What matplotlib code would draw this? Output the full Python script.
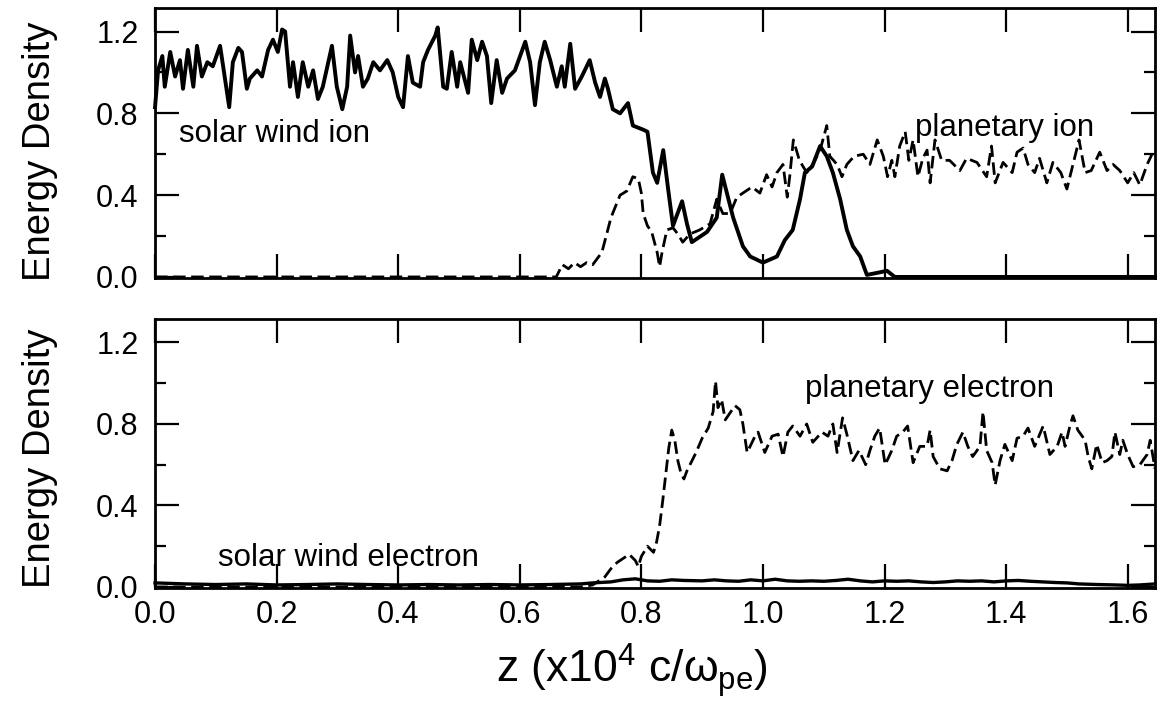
import matplotlib
matplotlib.use('Agg')
import matplotlib.pyplot as plt
from matplotlib.ticker import MultipleLocator

plt.rcParams['font.family'] = ['Liberation Sans', 'DejaVu Sans']
plt.rcParams['mathtext.fontset'] = 'custom'
plt.rcParams['mathtext.rm'] = 'Liberation Sans'
plt.rcParams['mathtext.it'] = 'Liberation Sans'
plt.rcParams['mathtext.bf'] = 'Liberation Sans'

# ---- top panel: ions ----
sw_ion_z = [0.000, 0.005, 0.012, 0.016, 0.025, 0.033, 0.041, 0.046, 0.054, 0.063,
            0.069, 0.077, 0.086, 0.095, 0.107, 0.115, 0.122, 0.128, 0.137, 0.143,
            0.151, 0.156, 0.168, 0.176, 0.186, 0.194, 0.202, 0.209, 0.214, 0.222,
            0.227, 0.235, 0.243, 0.252, 0.260, 0.268, 0.276, 0.291, 0.299, 0.308,
            0.316, 0.321, 0.329, 0.334, 0.342, 0.350, 0.359, 0.370, 0.382, 0.391,
            0.400, 0.408, 0.416, 0.424, 0.436, 0.441, 0.449, 0.461, 0.465, 0.474,
            0.480, 0.488, 0.497, 0.502, 0.515, 0.521, 0.530, 0.538, 0.546, 0.553,
            0.562, 0.571, 0.579, 0.592, 0.609, 0.617, 0.625, 0.633, 0.641, 0.650,
            0.661, 0.669, 0.674, 0.683, 0.691, 0.702, 0.715, 0.724, 0.732, 0.740,
            0.745, 0.753, 0.765, 0.778, 0.786, 0.803, 0.810, 0.819, 0.826, 0.836,
            0.844, 0.852, 0.867, 0.875, 0.883, 0.908, 0.924, 0.933, 0.951, 0.967,
            0.979, 1.000, 1.023, 1.036, 1.049, 1.061, 1.069, 1.081, 1.094, 1.105,
            1.115, 1.127, 1.138, 1.148, 1.160, 1.171, 1.188, 1.204, 1.217, 1.645]
sw_ion_e = [0.83, 1.01, 1.08, 0.93, 1.10, 0.98, 1.06, 0.92, 1.11, 0.93,
            1.13, 0.98, 1.05, 1.03, 1.13, 0.97, 0.83, 1.05, 1.12, 1.10,
            0.92, 0.97, 1.01, 0.98, 1.11, 1.16, 1.10, 1.21, 1.20, 0.93,
            1.05, 0.88, 1.05, 0.93, 1.01, 0.87, 0.93, 1.13, 0.93, 0.82,
            0.93, 1.18, 1.00, 1.08, 0.93, 0.97, 1.05, 1.01, 1.06, 1.00,
            0.88, 0.83, 1.08, 0.95, 0.93, 1.05, 1.11, 1.18, 1.22, 0.93,
            0.92, 1.10, 0.93, 1.05, 0.90, 1.16, 1.06, 1.15, 1.08, 0.85,
            1.06, 0.90, 0.97, 1.01, 1.15, 1.05, 0.84, 1.05, 1.15, 1.06,
            0.93, 1.03, 0.93, 1.14, 0.92, 0.98, 1.06, 0.95, 0.88, 0.97,
            0.92, 0.82, 0.80, 0.85, 0.74, 0.72, 0.71, 0.51, 0.46, 0.62,
            0.43, 0.25, 0.37, 0.26, 0.17, 0.22, 0.29, 0.50, 0.29, 0.15,
            0.10, 0.07, 0.10, 0.18, 0.23, 0.38, 0.51, 0.54, 0.64, 0.59,
            0.51, 0.38, 0.23, 0.15, 0.10, 0.01, 0.02, 0.03, 0.00, 0.00]

pl_ion_z = [0.000, 0.660, 0.670, 0.680, 0.690, 0.700, 0.710, 0.720, 0.735, 0.743,
            0.750, 0.765, 0.776, 0.786, 0.795, 0.800, 0.803, 0.810, 0.817, 0.826,
            0.830, 0.834, 0.842, 0.852, 0.860, 0.868, 0.880, 0.896, 0.913, 0.924,
            0.934, 0.946, 0.957, 0.967, 0.982, 0.995, 1.006, 1.015, 1.023, 1.033,
            1.040, 1.044, 1.050, 1.060, 1.072, 1.082, 1.094, 1.105, 1.110, 1.122,
            1.130, 1.138, 1.150, 1.165, 1.176, 1.188, 1.198, 1.205, 1.212, 1.217,
            1.225, 1.234, 1.240, 1.247, 1.255, 1.263, 1.270, 1.275, 1.283, 1.294,
            1.307, 1.324, 1.335, 1.352, 1.368, 1.376, 1.382, 1.395, 1.410, 1.418,
            1.428, 1.436, 1.447, 1.455, 1.467, 1.477, 1.490, 1.500, 1.510, 1.520,
            1.530, 1.540, 1.554, 1.566, 1.576, 1.587, 1.600, 1.610, 1.620, 1.632,
            1.640]
pl_ion_e = [0.00, 0.00, 0.06, 0.04, 0.07, 0.05, 0.07, 0.06, 0.12, 0.21,
            0.29, 0.40, 0.42, 0.49, 0.48, 0.41, 0.31, 0.25, 0.22, 0.12,
            0.05, 0.12, 0.23, 0.24, 0.21, 0.17, 0.21, 0.23, 0.26, 0.38,
            0.31, 0.31, 0.39, 0.41, 0.44, 0.41, 0.50, 0.44, 0.51, 0.55,
            0.39, 0.49, 0.67, 0.57, 0.51, 0.55, 0.62, 0.74, 0.59, 0.55,
            0.49, 0.55, 0.59, 0.60, 0.55, 0.67, 0.59, 0.49, 0.57, 0.49,
            0.64, 0.71, 0.57, 0.67, 0.49, 0.58, 0.62, 0.46, 0.67, 0.57,
            0.57, 0.52, 0.58, 0.56, 0.49, 0.64, 0.46, 0.56, 0.51, 0.61,
            0.63, 0.55, 0.51, 0.58, 0.46, 0.56, 0.51, 0.43, 0.55, 0.67,
            0.51, 0.52, 0.61, 0.52, 0.55, 0.52, 0.46, 0.51, 0.45, 0.55,
            0.60]

# ---- bottom panel: electrons ----
sw_el_z = [0.00, 0.05, 0.10, 0.15, 0.20, 0.25, 0.30, 0.35, 0.40, 0.45,
           0.50, 0.55, 0.60, 0.65, 0.70, 0.72, 0.75, 0.77, 0.79, 0.81,
           0.83, 0.85, 0.87, 0.90, 0.92, 0.94, 0.96, 0.98, 1.00, 1.02,
           1.04, 1.06, 1.08, 1.10, 1.12, 1.14, 1.16, 1.18, 1.20, 1.22,
           1.24, 1.26, 1.28, 1.30, 1.32, 1.34, 1.36, 1.38, 1.40, 1.42,
           1.44, 1.46, 1.48, 1.50, 1.52, 1.55, 1.58, 1.60, 1.62, 1.645]
sw_el_e = [0.020, 0.015, 0.012, 0.015, 0.010, 0.012, 0.015, 0.012, 0.010, 0.012,
           0.010, 0.012, 0.010, 0.012, 0.015, 0.020, 0.025, 0.035, 0.040, 0.030,
           0.028, 0.035, 0.032, 0.030, 0.035, 0.030, 0.028, 0.035, 0.030, 0.038,
           0.030, 0.028, 0.030, 0.028, 0.032, 0.038, 0.030, 0.025, 0.030, 0.028,
           0.030, 0.025, 0.022, 0.025, 0.030, 0.028, 0.030, 0.025, 0.030, 0.032,
           0.028, 0.025, 0.022, 0.020, 0.015, 0.012, 0.010, 0.008, 0.010, 0.015]

pl_el_z = [0.000, 0.700, 0.720, 0.740, 0.750, 0.760, 0.770, 0.780, 0.790, 0.795,
           0.800, 0.810, 0.820, 0.825, 0.830, 0.835, 0.840, 0.845, 0.850, 0.855,
           0.860, 0.865, 0.870, 0.875, 0.880, 0.890, 0.900, 0.910, 0.918, 0.922,
           0.926, 0.932, 0.938, 0.954, 0.962, 0.967, 0.974, 0.987, 0.992, 1.003,
           1.015, 1.025, 1.033, 1.041, 1.049, 1.061, 1.072, 1.082, 1.097, 1.107,
           1.115, 1.122, 1.131, 1.138, 1.148, 1.158, 1.169, 1.176, 1.184, 1.192,
           1.201, 1.212, 1.220, 1.230, 1.238, 1.247, 1.258, 1.270, 1.275, 1.280,
           1.291, 1.303, 1.311, 1.319, 1.329, 1.337, 1.345, 1.357, 1.362, 1.368,
           1.377, 1.382, 1.390, 1.398, 1.410, 1.418, 1.428, 1.436, 1.447, 1.461,
           1.472, 1.484, 1.492, 1.497, 1.505, 1.510, 1.518, 1.530, 1.535, 1.541,
           1.549, 1.558, 1.566, 1.574, 1.579, 1.587, 1.592, 1.600, 1.609, 1.620,
           1.632, 1.637, 1.645]
pl_el_e = [0.00, 0.00, 0.01, 0.05, 0.09, 0.12, 0.14, 0.16, 0.13, 0.10,
           0.15, 0.20, 0.17, 0.22, 0.30, 0.42, 0.55, 0.68, 0.77, 0.72,
           0.62, 0.56, 0.53, 0.57, 0.60, 0.66, 0.73, 0.78, 0.86, 1.01,
           0.88, 0.92, 0.82, 0.89, 0.87, 0.80, 0.66, 0.74, 0.76, 0.66,
           0.74, 0.75, 0.64, 0.76, 0.79, 0.74, 0.80, 0.71, 0.76, 0.74,
           0.80, 0.66, 0.83, 0.75, 0.62, 0.67, 0.60, 0.67, 0.74, 0.78,
           0.60, 0.67, 0.74, 0.76, 0.79, 0.61, 0.69, 0.69, 0.77, 0.64,
           0.58, 0.57, 0.62, 0.70, 0.76, 0.69, 0.64, 0.69, 0.86, 0.67,
           0.61, 0.50, 0.62, 0.70, 0.62, 0.73, 0.74, 0.78, 0.69, 0.79,
           0.65, 0.69, 0.76, 0.69, 0.79, 0.84, 0.77, 0.72, 0.64, 0.58,
           0.70, 0.61, 0.62, 0.64, 0.76, 0.65, 0.72, 0.65, 0.59, 0.60,
           0.65, 0.72, 0.58]

x_ticks = [0.0, 0.2, 0.4, 0.6, 0.8, 1.0, 1.2, 1.4, 1.6]
y_ticks = [0.0, 0.4, 0.8, 1.2]

fig = plt.figure(figsize=(11.64, 7.19), dpi=100)
ax1 = fig.add_axes([0.1332, 0.6134, 0.8591, 0.3755])
ax2 = fig.add_axes([0.1332, 0.1822, 0.8591, 0.3741])

dash = (4.5, 2.0)
ax1.plot(pl_ion_z, pl_ion_e, color='black', lw=2.0, dashes=dash, clip_on=False)
ax1.plot(sw_ion_z, sw_ion_e, color='black', lw=2.8, clip_on=False)
ax2.plot(pl_el_z, pl_el_e, color='black', lw=2.0, dashes=dash, clip_on=False)
ax2.plot(sw_el_z, sw_el_e, color='black', lw=2.4, clip_on=False)

ax1.text(0.04, 0.70, 'solar wind ion', fontsize=22.5, va='center', ha='left')
ax1.text(1.25, 0.73, 'planetary ion', fontsize=22.5, va='center', ha='left')
ax2.text(1.07, 0.97, 'planetary electron', fontsize=22.5, va='center', ha='left')
ax2.text(0.104, 0.14, 'solar wind electron', fontsize=22.5, va='center', ha='left')

for ax in (ax1, ax2):
    ax.set_xlim(0, 1.645)
    ax.set_ylim(-0.005, 1.315)
    ax.set_xticks(x_ticks)
    ax.set_yticks(y_ticks)
    ax.yaxis.set_minor_locator(MultipleLocator(0.2))
    ax.tick_params(which='both', direction='in', top=True, right=True, width=1.6)
    ax.tick_params(which='major', length=17, labelsize=22)
    ax.tick_params(axis='y', which='major', pad=12)
    ax.tick_params(axis='x', which='major', pad=9)
    ax.tick_params(which='minor', length=8)
    for s in ax.spines.values():
        s.set_linewidth(2.0)

ax1.set_xticklabels([])
ax2.set_xticklabels(['0.0', '0.2', '0.4', '0.6', '0.8', '1.0', '1.2', '1.4', '1.6'])
ax1.set_yticklabels(['0.0', '0.4', '0.8', '1.2'])
ax2.set_yticklabels(['0.0', '0.4', '0.8', '1.2'])

fig.text(0.034, 0.789, 'Energy Density', rotation=90, fontsize=27.5, ha='center', va='center')
fig.text(0.034, 0.362, 'Energy Density', rotation=90, fontsize=27.5, ha='center', va='center')
fig.text(0.543, 0.068, r'z (x10$^4$ c/$\omega_{pe}$)', fontsize=32, ha='center', va='center')

fig.savefig('out.png', dpi=100)
